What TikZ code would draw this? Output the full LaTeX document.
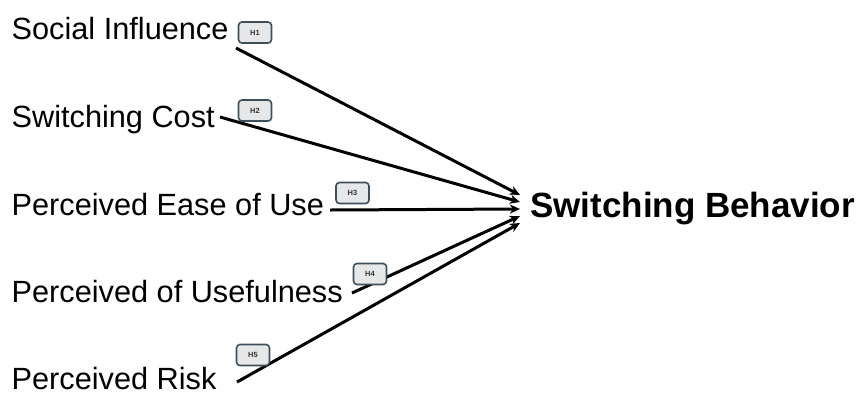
\documentclass[tikz,border=0pt]{standalone}
\usepackage{fontspec}
\setmainfont{Liberation Sans}
\usetikzlibrary{arrows.meta}
\definecolor{hborder}{HTML}{3E4F5C}
\definecolor{hfill}{HTML}{E6E7E8}
\definecolor{htext}{HTML}{333333}
\tikzset{
  factor/.style={anchor=base west,inner sep=0pt,font=\fontsize{30.7}{34}\selectfont},
  outcome/.style={anchor=base west,inner sep=0pt,font=\fontsize{35}{39}\selectfont\bfseries},
  hbox/.style={draw=hborder,fill=hfill,line width=1.6pt,rounded corners=3.5pt,
    minimum width=33pt,minimum height=21pt,inner sep=0pt,
    font=\fontsize{7.5}{8}\selectfont\bfseries,text=htext},
  link/.style={line width=3pt,-{Stealth[length=10pt,width=9pt,inset=3pt]}}
}
\begin{document}
\begin{tikzpicture}[x=1pt,y=-1pt]
\useasboundingbox (0,0) rectangle (859,392);
\node[factor] (si) at (11.5,39) {Social Influence};
\node[factor] (sc) at (11.5,127) {Switching Cost};
\node[factor] (pe) at (11.5,215) {Perceived Ease of Use};
\node[factor] (pu) at (11.5,302) {Perceived of Usefulness};
\node[factor] (pr) at (11.5,389) {Perceived Risk};
\node[outcome] (sb) at (530,217) {Switching Behavior};

\coordinate (s1) at (236,48);
\coordinate (s2) at (220,117);
\coordinate (s3) at (330,210);
\coordinate (s4) at (352,293);
\coordinate (s5) at (237,382);
\coordinate (t1) at (520,195);
\coordinate (t2) at (520,202);
\coordinate (t3) at (520,209);
\coordinate (t4) at (520,216);
\coordinate (t5) at (520,223);

\draw[link] (s1) -- (t1);
\draw[link] (s2) -- (t2);
\draw[link] (s3) -- (t3);
\draw[link] (s4) -- (t4);
\draw[link] (s5) -- (t5);

\node[hbox] (h1) at (255,32.5) {H1};
\node[hbox] (h2) at (255,110.5) {H2};
\node[hbox] (h3) at (352.5,193) {H3};
\node[hbox] (h4) at (370,274) {H4};
\node[hbox] (h5) at (253,355) {H5};
\end{tikzpicture}
\end{document}
